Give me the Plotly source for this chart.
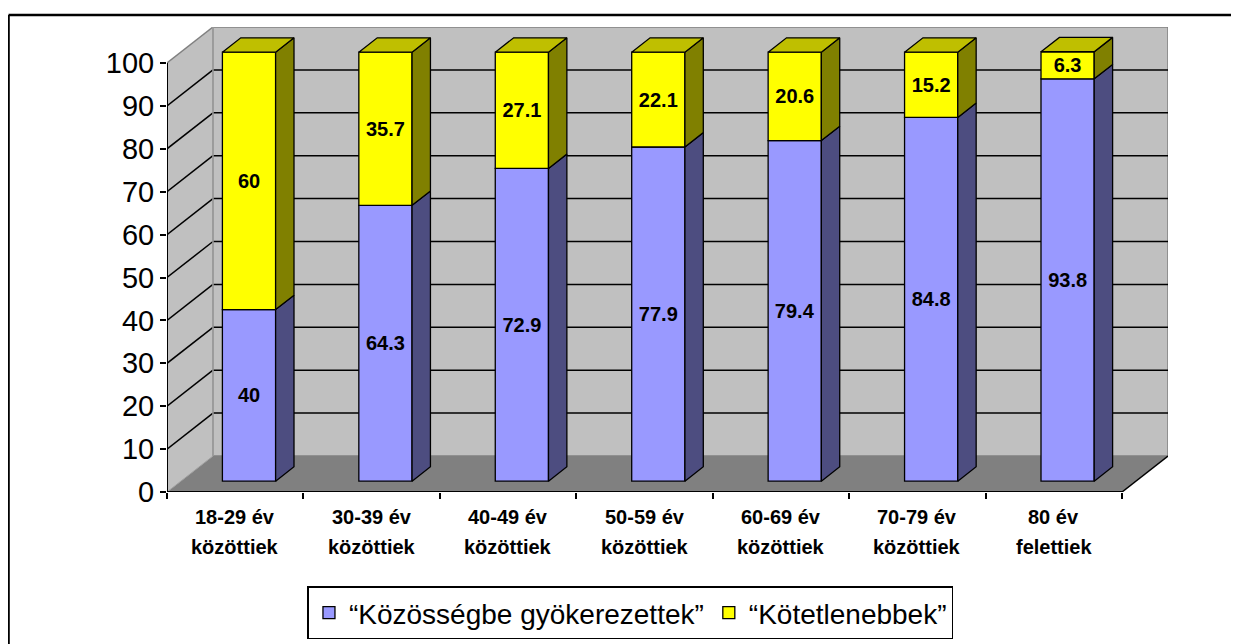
import plotly.graph_objects as go

# ---------------- data ----------------
categories = ["18-29 év\nközöttiek", "30-39 év\nközöttiek", "40-49 év\nközöttiek",
              "50-59 év\nközöttiek", "60-69 év\nközöttiek", "70-79 év\nközöttiek",
              "80 év\nfelettiek"]
rooted = [40, 64.3, 72.9, 77.9, 79.4, 84.8, 93.8]
loose = [60, 35.7, 27.1, 22.1, 20.6, 15.2, 6.3]
series_names = ["“Közösségbe gyökerezettek”", "“Kötetlenebbek”"]
y_ticks = list(range(0, 101, 10))

# ---------------- 3D look geometry (in axis units) ----------------
N = len(categories)
DX = 0.337      # depth offset along x (category units)
DY = 8.39       # depth offset along y (value units)
F1, F2 = 0.30, 0.70   # bar front / back depth fraction
BAR_W = 0.39
YMAX = 100

FONT = "Liberation Sans, Arial, sans-serif"
front_cols = ["#9999FF", "#FFFF00"]
side_cols = ["#4D4D80", "#808000"]
top_cols = ["#6B6BB3", "#BFBF00"]

ox1, oy1 = F1 * DX, F1 * DY
ox2, oy2 = F2 * DX, F2 * DY

fig = go.Figure()

lows = [[0] * N, rooted]
vals_list = [rooted, loose]

# front faces as real bars
for s in range(2):
    vals, lo = vals_list[s], lows[s]
    fig.add_trace(go.Bar(
        x=[i + 0.5 + ox1 for i in range(N)],
        y=vals,
        base=[b + oy1 for b in lo],
        width=BAR_W,
        name=series_names[s],
        marker=dict(color=front_cols[s], line=dict(color="black", width=1.3)),
        text=[f"{v:g}" for v in vals],
        textposition="inside",
        insidetextanchor="middle",
        textangle=0,
        constraintext="none",
        textfont=dict(size=20, color="black", family=FONT, weight="bold"),
        hoverinfo="skip",
    ))

# side faces and top faces
for s in range(2):
    vals, lo = vals_list[s], lows[s]
    for i in range(N):
        xl = i + 0.5 - BAR_W / 2
        xr = i + 0.5 + BAR_W / 2
        b = lo[i]
        h = lo[i] + vals[i]
        fig.add_trace(go.Scatter(
            x=[xr + ox1, xr + ox2, xr + ox2, xr + ox1, xr + ox1],
            y=[b + oy1, b + oy2, h + oy2, h + oy1, b + oy1],
            mode="lines", fill="toself", fillcolor=side_cols[s],
            line=dict(color="black", width=1.3), showlegend=False, hoverinfo="skip"))
        if s == 1:
            fig.add_trace(go.Scatter(
                x=[xl + ox1, xr + ox1, xr + ox2, xl + ox2, xl + ox1],
                y=[h + oy1, h + oy1, h + oy2, h + oy2, h + oy1],
                mode="lines", fill="toself", fillcolor=top_cols[s],
                line=dict(color="black", width=1.3), showlegend=False, hoverinfo="skip"))

# ---------------- walls, floor, grid ----------------
shapes = []
shapes.append(dict(type="path", xref="x", yref="y", layer="below",
                   path=f"M 0,0 L {DX},{DY} L {DX},{YMAX + DY} L 0,{YMAX} Z",
                   fillcolor="#C0C0C0", line=dict(width=0)))
shapes.append(dict(type="rect", xref="x", yref="y", layer="below",
                   x0=DX, y0=DY, x1=N + DX, y1=YMAX + DY,
                   fillcolor="#C0C0C0", line=dict(color="#808080", width=1.5)))
shapes.append(dict(type="path", xref="x", yref="y", layer="below",
                   path=f"M 0,0 L {N},0 L {N + DX},{DY} L {DX},{DY} Z",
                   fillcolor="#808080", line=dict(width=0)))
for v in y_ticks[1:-1]:
    shapes.append(dict(type="line", xref="x", yref="y", layer="below",
                       x0=0, y0=v, x1=DX, y1=v + DY, line=dict(color="black", width=1.5)))
    shapes.append(dict(type="line", xref="x", yref="y", layer="below",
                       x0=DX, y0=v + DY, x1=N + DX, y1=v + DY, line=dict(color="black", width=1.5)))
shapes.append(dict(type="line", xref="x", yref="y", layer="below",
                   x0=0, y0=YMAX, x1=DX, y1=YMAX + DY, line=dict(color="#808080", width=1.5)))
shapes.append(dict(type="line", xref="x", yref="y", layer="below",
                   x0=0, y0=0, x1=DX, y1=DY, line=dict(color="#A0A0A0", width=1)))
shapes.append(dict(type="line", xref="x", yref="y", layer="below",
                   x0=DX, y0=DY, x1=DX, y1=YMAX + DY, line=dict(color="#A0A0A0", width=1.5)))
# axis lines
shapes.append(dict(type="line", xref="x", yref="y", layer="below",
                   x0=0, y0=0, x1=0, y1=YMAX, line=dict(color="black", width=2)))
shapes.append(dict(type="line", xref="x", yref="y", layer="below",
                   x0=0, y0=0, x1=N, y1=0, line=dict(color="black", width=2)))
shapes.append(dict(type="line", xref="x", yref="y", layer="below",
                   x0=N, y0=0, x1=N + DX, y1=DY, line=dict(color="black", width=1.5)))
# outer frame
shapes.append(dict(type="line", xref="paper", yref="paper",
                   x0=-0.1583, y0=-0.4, x1=-0.1583, y1=1.0258, line=dict(color="black", width=2.5)))
shapes.append(dict(type="line", xref="paper", yref="paper",
                   x0=-0.1583, y0=1.0258, x1=1.1, y1=1.0258, line=dict(color="black", width=2.5)))

# category labels (two lines each)
PLOT_H = 465
annotations = []
for i, c in enumerate(categories):
    lines = c.split("\n")
    for k, ln in enumerate(lines):
        annotations.append(dict(
            x=i + 0.5, xref="x", y=-(25 + 30 * k) / PLOT_H, yref="paper",
            text=ln, showarrow=False, xanchor="center", yanchor="middle",
            font=dict(size=20, family=FONT, color="black", weight="bold")))

fig.update_layout(
    width=1239, height=644,
    margin=dict(l=159, r=79, t=19, b=160, pad=0, autoexpand=False),
    paper_bgcolor="white", plot_bgcolor="white",
    barmode="overlay",
    shapes=shapes,
    annotations=annotations,
    font=dict(family=FONT, color="black"),
    xaxis=dict(range=[0, N + DX], tickvals=list(range(N + 1)), showticklabels=False,
               ticks="outside", ticklen=6, tickcolor="black", tickwidth=1.5,
               showgrid=False, zeroline=False, showline=False, automargin=False,
               fixedrange=True),
    yaxis=dict(range=[0, YMAX + DY], tickvals=y_ticks, ticks="outside", ticklen=6,
               tickcolor="black", tickwidth=1.5, showgrid=False, zeroline=False,
               showline=False, automargin=False,
               tickfont=dict(size=29, family=FONT, color="black"), ticklabelstandoff=0,
               fixedrange=True),
    legend=dict(orientation="h", x=0.463, xanchor="center", y=-0.203, yanchor="top",
                bordercolor="black", borderwidth=1.5, bgcolor="white",
                font=dict(size=28, family=FONT, color="black"), traceorder="normal",
                itemwidth=30, tracegroupgap=0),
)

fig.write_html("out.html")
